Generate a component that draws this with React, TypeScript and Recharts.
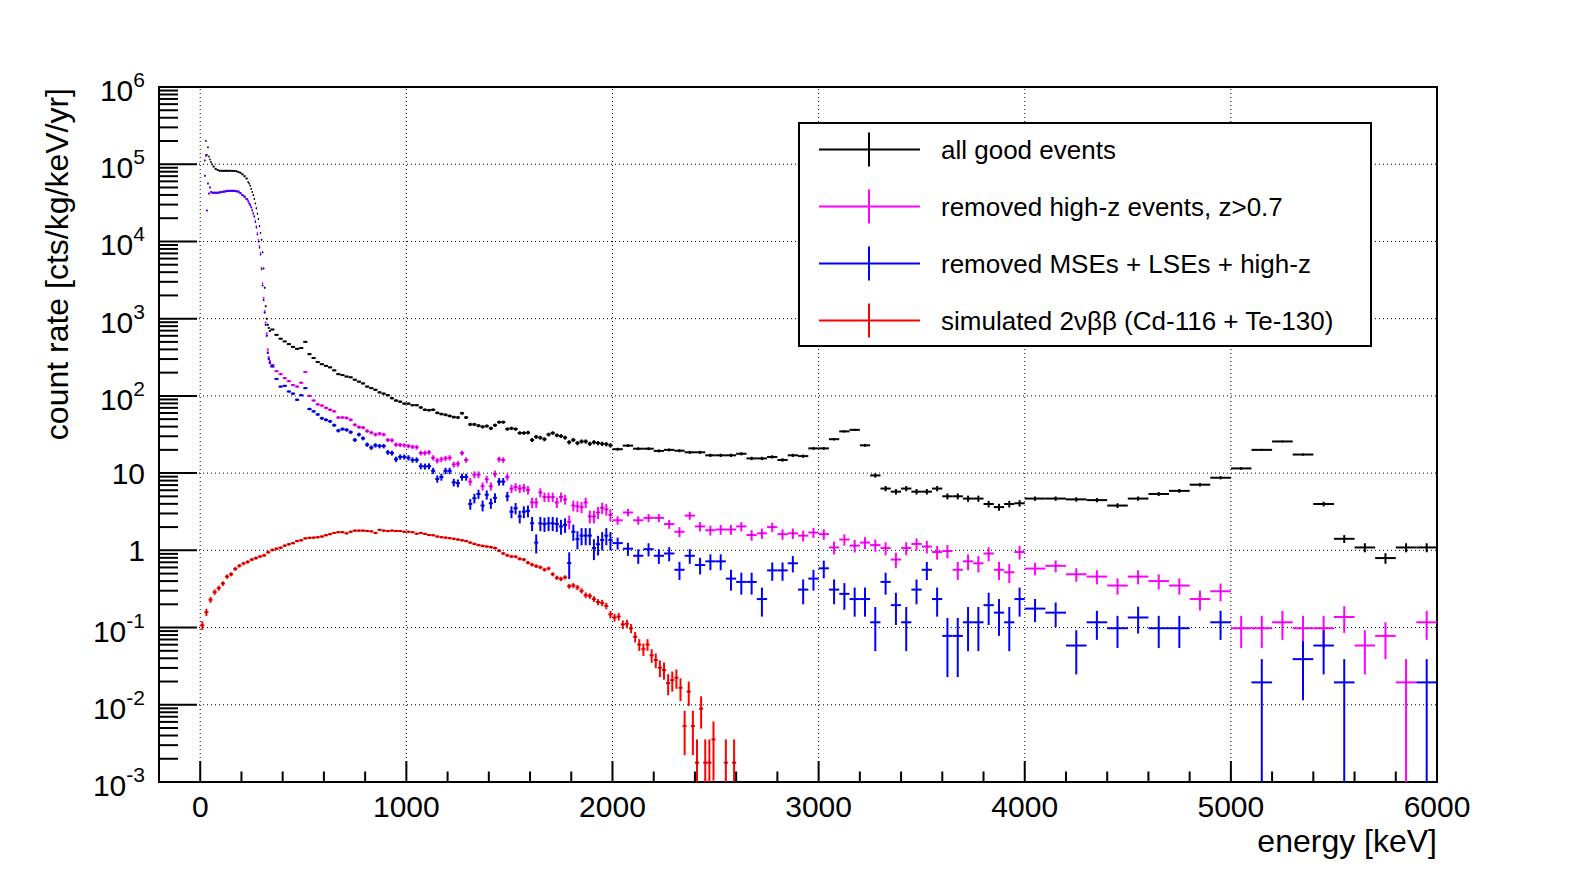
import React from "react";
import {
  ComposedChart,
  Scatter,
  XAxis,
  YAxis,
  ErrorBar,
  Legend,
  ReferenceLine,
  ReferenceArea,
} from "recharts";

const FONT = "'Liberation Sans', Arial, Helvetica, sans-serif";

// ---------------- series names / colours ----------------
const seriesNames = [
  "all good events",
  "removed high-z events, z>0.7",
  "removed MSEs + LSEs + high-z",
  "simulated 2\u03bd\u03b2\u03b2 (Cd-116 + Te-130)",
];
const seriesColors = ["#000000", "#ff00ff", "#0000ff", "#ff0000"];

// ---------------- binning (keV) ----------------
const bins5a = { start: 20, width: 5 };
const bins10 = { start: 60, width: 10 };
const bins5b = { start: 230, width: 5 };
const bins20 = { start: 340, width: 20 };
const bins50 = { start: 2000, width: 50 };
const bins100 = { start: 4000, width: 100 };
const binsSim = { start: 0, width: 20 };

// count rate of one event per keV of bin width (cts/kg/keV/yr * keV)
const dataCountUnit = 1.95;
const simCountUnit = 0.0356;

// ---------------- all good events ----------------
const allGood5a = [112000, 200000, 132000, 166000, 126000, 115000, 107000, 100000];
const allGood10 = [93300, 87100, 84100, 82200, 82200, 82000, 82400, 82000, 82200, 82000, 81800, 81300, 79400, 77600, 74100, 70000, 65300];
const allGood5b = [58900, 56200, 52500, 47900, 43700, 39800, 35500, 30900, 26900, 22900, 19500, 15800, 12900, 10500, 7240, 4470, 2510, 1450, 1000, 832, 759, 692];
const allGood20 = [
  724, 617, 550, 507, 468, 431, 407, 417, 501, 347,
  309, 275, 257, 245, 234, 214, 191, 186, 178, 174,
  162, 153, 145, 132, 126, 120, 111, 107, 102, 93.3,
  87.1, 84.1, 79.4, 79.4, 75.9, 75.9, 70.8, 66.1, 65.3, 66.1,
  60.3, 58.2, 56.9, 55.0, 53.1, 52.5, 59.6, 52.5, 42.7, 42.7,
  41.2, 39.8, 40.7, 38.0, 41.7, 45.7, 45.7, 37.2, 38.0, 37.2,
  33.1, 33.1, 33.5, 26.9, 29.5, 28.8, 27.5, 31.6, 33.1, 30.9,
  30.2, 28.8, 25.1, 26.9, 24.5, 25.7, 25.7, 24.0, 25.1, 24.5,
  24.0, 23.7, 22.9,
];
const allGood50 = [
  20.4, 22.7, 20.7, 20.7, 19.4, 20.0, 19.5, 18.6, 18.6, 17.0,
  17.0, 17.0, 17.8, 15.5, 15.5, 16.2, 14.8, 17.0, 16.6, 20.9,
  20.9, 27.5, 34.7, 36.3, 22.9, 9.33, 6.31, 5.75, 6.31, 5.75,
  5.75, 6.31, 5.01, 5.01, 4.68, 4.68, 3.98, 3.63, 3.98, 4.07,
];
const allGood100 = [4.68, 4.68, 4.57, 4.47, 3.8, 4.68, 5.37, 5.89, 7.08, 8.71, 11.5, 20.0, 25.7, 17.4, 3.98, 1.41, 1.09, 0.794, 1.09, 1.09];

// ---------------- removed high-z events ----------------
const highZ5a = [70800, 126000, 25100, 56200, 41700, 50100, 43700, 42700];
const highZ10 = [42700, 42700, 42700, 43200, 43700, 44200, 44700, 45200, 45200, 45200, 45200, 44700, 44200, 42200, 39800, 38000, 35500];
const highZ5b = [33800, 31600, 30200, 28200, 25700, 23400, 21400, 18600, 15800, 12900, 10500, 8710, 7080, 4570, 2880, 1860, 1260, 891, 646, 398, 316, 282];
const highZ20 = [
  251, 209, 191, 170, 155, 138, 132, 148, 204, 100,
  87.1, 77.6, 75.0, 70.0, 66.1, 63.1, 52.5, 52.5, 51.9, 49.0,
  42.2, 39.4, 38.9, 35.1, 33.5, 31.6, 32.4, 31.6, 26.9, 26.6,
  23.4, 23.2, 22.9, 22.4, 21.9, 21.6, 18.2, 18.2, 18.6, 15.8,
  14.5, 15.1, 15.5, 15.8, 12.9, 13.2, 18.2, 14.8, 7.76, 9.55,
  9.55, 6.76, 8.32, 6.76, 9.77, 15.1, 14.8, 8.91, 6.31, 6.61,
  6.31, 6.46, 6.03, 4.17, 4.17, 5.62, 4.9, 4.9, 4.9, 4.17,
  4.9, 4.57, 2.34, 3.8, 3.72, 3.63, 4.17, 2.75, 2.75, 3.09,
  3.55, 3.39, 2.88,
];
const highZ50 = [
  2.45, 3.09, 2.45, 2.63, 2.63, 2.19, 1.74, 2.82, 2.04, 1.82,
  1.86, 1.86, 2.04, 1.58, 1.66, 2.0, 1.62, 1.66, 1.55, 1.7,
  1.62, 1.09, 1.38, 1.15, 1.26, 1.17, 1.07, 0.76, 1.07, 1.21,
  1.12, 0.95, 0.98, 0.56, 0.72, 0.68, 0.91, 0.56, 0.52, 0.95,
];
const highZ100 = [0.58, 0.63, 0.49, 0.457, 0.35, 0.457, 0.4, 0.35, 0.234, 0.295, 0.098, 0.098, 0.117, 0.098, 0.098, 0.137, 0.0585, 0.078, 0.0195, 0.117];

// ---------------- removed MSEs + LSEs + high-z ----------------
const mseLse5a = [70800, 132000, 25100, 56200, 41700, 50100, 43700, 42700];
const mseLse10 = [42700, 42700, 42700, 43200, 43700, 44200, 44700, 45200, 45200, 45200, 45200, 44700, 44200, 42200, 39800, 38000, 35500];
const mseLse5b = [33100, 30900, 29500, 27500, 25100, 22900, 20900, 17800, 15100, 12300, 10000, 8320, 6760, 4370, 2690, 1740, 1200, 832, 603, 363, 302, 269];
const mseLse20 = [
  240, 166, 132, 135, 114, 107, 89.1, 102, 126, 67.6,
  63.1, 57.5, 51.3, 49.0, 46.8, 41.7, 35.5, 37.2, 36.3, 33.9,
  26.9, 31.6, 28.2, 23.4, 21.4, 22.9, 22.4, 22.4, 18.6, 18.2,
  15.1, 16.2, 16.2, 15.8, 14.8, 14.8, 12.3, 12.2, 12.3, 10.7,
  8.41, 8.91, 10.7, 10.7, 7.59, 7.41, 8.91, 8.91, 3.98, 4.73,
  5.37, 3.8, 5.25, 4.07, 4.79, 7.76, 7.76, 5.01, 3.16, 3.51,
  2.75, 3.16, 3.24, 2.24, 1.26, 2.24, 2.19, 2.24, 2.24, 2.19,
  2.04, 2.14, 0.684, 1.74, 1.4, 1.55, 1.55, 1.55, 1.07, 1.2,
  1.36, 1.55, 1.36,
];
const mseLse50 = [
  1.24, 1.05, 0.85, 1.035, 0.85, 0.91, 0.56, 0.85, 0.645, 0.72,
  0.72, 0.43, 0.39, 0.39, 0.234, 0.55, 0.55, 0.68, 0.31, 0.43,
  0.585, 0.31, 0.273, 0.234, 0.234, 0.117, 0.39, 0.195, 0.117, 0.31,
  0.56, 0.234, 0.078, 0.078, 0.117, 0.117, 0.195, 0.156, 0.117, 0.234,
];
const mseLse100 = [0.176, 0.156, 0.0585, 0.117, 0.098, 0.135, 0.098, 0.098, 0, 0.117, 0, 0.0195, 0, 0.039, 0.0585, 0.0195, 0, 0, 0, 0.0195];

// ---------------- simulated 2vbb ----------------
const sim20 = [
  0.107, 0.158, 0.229, 0.288, 0.324, 0.372, 0.457, 0.49, 0.575, 0.631,
  0.676, 0.708, 0.759, 0.794, 0.832, 0.861, 0.944, 1.01, 1.05, 1.08,
  1.15, 1.2, 1.24, 1.32, 1.35, 1.43, 1.45, 1.46, 1.48, 1.51,
  1.57, 1.62, 1.68, 1.72, 1.72, 1.66, 1.74, 1.8, 1.8, 1.8,
  1.78, 1.76, 1.68, 1.84, 1.8, 1.78, 1.8, 1.78, 1.78, 1.74,
  1.74, 1.72, 1.64, 1.68, 1.63, 1.58, 1.57, 1.51, 1.48, 1.46,
  1.44, 1.41, 1.38, 1.35, 1.32, 1.26, 1.21, 1.17, 1.14, 1.12,
  1.1, 1.07, 0.989, 0.912, 0.861, 0.832, 0.828, 0.776, 0.759, 0.692,
  0.653, 0.624, 0.603, 0.562, 0.582, 0.49, 0.442, 0.427, 0.447, 0.343,
  0.351, 0.331, 0.299, 0.263, 0.257, 0.234, 0.214, 0.209, 0.191, 0.148,
  0.135, 0.139, 0.11, 0.112, 0.0977, 0.0759, 0.0603, 0.0525, 0.0603, 0.0437,
  0.038, 0.0302, 0.0282, 0.0191, 0.0209, 0.0224, 0.0166, 0.0053, 0.0148, 0.0053,
  0.00178, 0.0089, 0.00178, 0.00178, 0.00356, 0, 0, 0.00178, 0, 0.00178,
  0,
];

// ---------------- axes ----------------
const xDomain = [-200, 6000];
const xMajorTicks = [0, 1000, 2000, 3000, 4000, 5000, 6000];
const xMinorTicks = [
  -200, 200, 400, 600, 800, 1200, 1400, 1600, 1800, 2200, 2400, 2600, 2800,
  3200, 3400, 3600, 3800, 4200, 4400, 4600, 4800, 5200, 5400, 5600, 5800,
];
const yDomain = [0.001, 1000000];
const yDecadeExponents = [-3, -2, -1, 0, 1, 2, 3, 4, 5, 6];
const yMinorMultipliers = [2, 3, 4, 5, 6, 7, 8, 9];

const yMajorTicks = yDecadeExponents.map((n) => Math.pow(10, n));
const yMinorTicks: number[] = [];
yDecadeExponents.slice(0, -1).forEach((n) =>
  yMinorMultipliers.forEach((m) => yMinorTicks.push(m * Math.pow(10, n)))
);
const xTicks = [...xMajorTicks, ...xMinorTicks].sort((a, b) => a - b);
const yTicks = [...yMajorTicks, ...yMinorTicks].sort((a, b) => a - b);

// ---------------- build histogram points ----------------
type Bins = { start: number; width: number };
type Pt = { x: number; y: number; xe: number; ye: [number, number] };

function histPoints(parts: [Bins, number[]][], unit: number): Pt[] {
  const out: Pt[] = [];
  parts.forEach(([b, vals]) => {
    vals.forEach((v, i) => {
      if (!(v > 0)) return;
      const e = Math.sqrt((v * unit) / b.width);
      // lower end of the bar stops at the bottom of the frame
      const low = Math.max(v - e, yDomain[0]);
      out.push({
        x: b.start + b.width * (i + 0.5),
        y: v,
        xe: b.width / 2,
        ye: [v - low, e],
      });
    });
  });
  return out;
}

const allGoodPts = histPoints(
  [[bins5a, allGood5a], [bins10, allGood10], [bins5b, allGood5b], [bins20, allGood20], [bins50, allGood50], [bins100, allGood100]],
  dataCountUnit
);
const highZPts = histPoints(
  [[bins5a, highZ5a], [bins10, highZ10], [bins5b, highZ5b], [bins20, highZ20], [bins50, highZ50], [bins100, highZ100]],
  dataCountUnit
);
const mseLsePts = histPoints(
  [[bins5a, mseLse5a], [bins10, mseLse10], [bins5b, mseLse5b], [bins20, mseLse20], [bins50, mseLse50], [bins100, mseLse100]],
  dataCountUnit
);
const simPts = histPoints([[binsSim, sim20]], simCountUnit);

const seriesData = [allGoodPts, highZPts, mseLsePts, simPts];

// ---------------- renderers ----------------
const XTick = (props: any) => {
  const { x, y, payload } = props;
  const v = payload.value as number;
  const major = v % 1000 === 0;
  return (
    <g>
      <line x1={x} x2={x} y1={y} y2={y - (major ? 21 : 10.5)} stroke="#000" strokeWidth={2} />
      {major && (
        <text x={x} y={y + 35} textAnchor="middle" fontSize={30} fontFamily={FONT} fill="#000">
          {v}
        </text>
      )}
    </g>
  );
};

const YTick = (props: any) => {
  const { x, y, payload } = props;
  const v = payload.value as number;
  const lg = Math.log10(v);
  const n = Math.round(lg);
  const major = Math.abs(lg - n) < 1e-6;
  let label: React.ReactNode = null;
  if (major) {
    if (n === 0 || n === 1) {
      label = (
        <text x={x - 14} y={y + 11} textAnchor="end" fontSize={30} fontFamily={FONT} fill="#000">
          {n === 0 ? "1" : "10"}
        </text>
      );
    } else {
      label = (
        <text x={x - 14} y={y + 14} textAnchor="end" fontSize={30} fontFamily={FONT} fill="#000">
          10
          <tspan dy={-14} fontSize={21}>
            {String(n)}
          </tspan>
        </text>
      );
    }
  }
  return (
    <g>
      <line x1={x} x2={x + (major ? 38 : 19)} y1={y} y2={y} stroke="#000" strokeWidth={2} />
      {label}
    </g>
  );
};

const XTitle = (props: any) => {
  const vb = props.viewBox;
  return (
    <text x={vb.x + vb.width} y={vb.y + 70} textAnchor="end" fontSize={32} fontFamily={FONT} fill="#000">
      energy [keV]
    </text>
  );
};

const YTitle = (props: any) => {
  const vb = props.viewBox;
  const cx = vb.x + 60;
  const cy = vb.y + 1;
  return (
    <text
      x={cx}
      y={cy}
      transform={`rotate(-90 ${cx} ${cy})`}
      textAnchor="end"
      fontSize={32}
      fontFamily={FONT}
      fill="#000"
    >
      count rate [cts/kg/keV/yr]
    </text>
  );
};

const LegendBox = () => (
  <svg width={574} height={225} style={{ display: "block" }}>
    <rect x={1} y={1} width={572} height={223} fill="#fff" stroke="#000" strokeWidth={2} />
    {seriesNames.map((name, i) => {
      const cy = 27.6 + i * 57;
      const c = seriesColors[i];
      return (
        <g key={name}>
          <line x1={21} x2={122} y1={cy} y2={cy} stroke={c} strokeWidth={2} />
          <line x1={71} x2={71} y1={cy - 17} y2={cy + 17} stroke={c} strokeWidth={2} />
          <text x={143} y={cy + 9.5} fontSize={26} fontFamily={FONT} fill="#000">
            {name}
          </text>
        </g>
      );
    })}
  </svg>
);

// small marker dot at the bin centre (only visible on the wider bins)
const Dot = (props: any) => {
  const { cx, cy, payload, fill } = props;
  if (cx == null || cy == null) return <g />;
  const dark = payload && payload.xe >= 10;
  return <rect x={cx - 0.5} y={cy - 0.5} width={1} height={1} fill={dark ? "#000" : fill} />;
};

export default function App() {
  return (
    <div style={{ width: 1580, height: 856, background: "#fff" }}>
      <ComposedChart
        width={1580}
        height={856}
        margin={{ top: 79, right: 151, bottom: 0, left: 0 }}
        style={{ background: "#fff" }}
      >
        <XAxis
          type="number"
          dataKey="x"
          domain={xDomain}
          allowDataOverflow
          ticks={xTicks}
          interval={0}
          tick={<XTick />}
          tickLine={false}
          axisLine={false}
          tickSize={0}
          tickMargin={0}
          height={82}
          label={<XTitle />}
        />
        <YAxis
          type="number"
          dataKey="y"
          scale="log"
          domain={yDomain}
          allowDataOverflow
          ticks={yTicks}
          interval={0}
          tick={<YTick />}
          tickLine={false}
          axisLine={false}
          tickSize={0}
          tickMargin={0}
          width={151}
          label={<YTitle />}
        />
        {xMajorTicks.slice(0, -1).map((v) => (
          <ReferenceLine key={"gx" + v} x={v} stroke="#000" strokeWidth={1} strokeDasharray="1 3" />
        ))}
        {yMajorTicks.slice(1, -1).map((v) => (
          <ReferenceLine key={"gy" + v} y={v} stroke="#000" strokeWidth={1} strokeDasharray="1 3" />
        ))}
        {seriesData.map((pts, i) => (
          <Scatter
            key={seriesNames[i]}
            name={seriesNames[i]}
            data={pts}
            fill={seriesColors[i]}
            shape={<Dot />}
            isAnimationActive={false}
          >
            <ErrorBar dataKey="xe" direction="x" width={0} stroke={seriesColors[i]} strokeWidth={2} isAnimationActive={false} />
            <ErrorBar dataKey="ye" direction="y" width={0} stroke={seriesColors[i]} strokeWidth={2} isAnimationActive={false} />
          </Scatter>
        ))}
        <ReferenceArea
          x1={xDomain[0]}
          x2={xDomain[1]}
          y1={yDomain[0]}
          y2={yDomain[1]}
          fill="none"
          fillOpacity={0}
          stroke="#000"
          strokeWidth={2}
          ifOverflow="visible"
        />
        <Legend
          layout="horizontal"
          verticalAlign="middle"
          align="center"
          content={<LegendBox />}
          wrapperStyle={{ position: "absolute", left: 790, top: 114, width: 574, height: 225 }}
        />
      </ComposedChart>
    </div>
  );
}
